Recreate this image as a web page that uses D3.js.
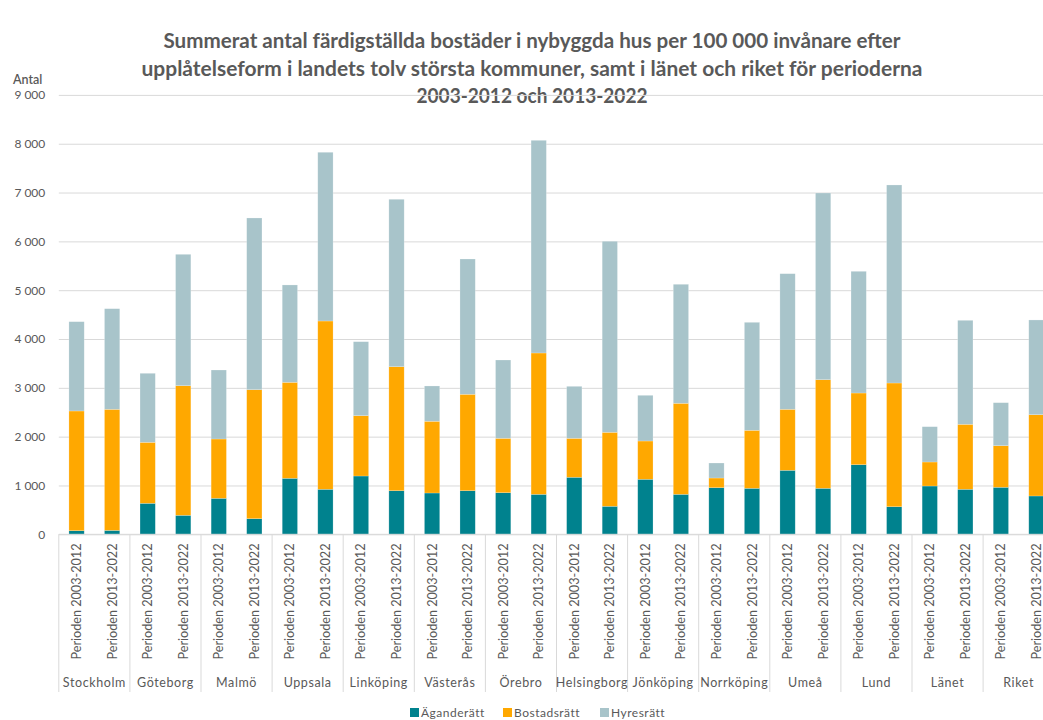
<!DOCTYPE html>
<html>
<head>
<meta charset="utf-8">
<script src="https://cdn.jsdelivr.net/npm/d3@7"></script>
<style>
  body { margin: 0; background: #fff; }
  svg { display: block; font-family: Lato, "Open Sans", sans-serif; }
</style>
</head>
<body>
<div id="chart"></div>
<script>
// Summerat antal färdigställda bostäder per 100 000 invånare, staplade per upplåtelseform
const groups = ["Stockholm", "Göteborg", "Malmö", "Uppsala", "Linköping", "Västerås", "Örebro",
  "Helsingborg", "Jönköping", "Norrköping", "Umeå", "Lund", "Länet", "Riket"];
const periods = ["Perioden 2003-2012", "Perioden 2013-2022"];
const seriesNames = ["Äganderätt", "Bostadsrätt", "Hyresrätt"];

// one value per bar, in order: group, then period
const aganderatt = [74, 80, 635, 389, 737, 320, 1147, 922, 1194, 893, 846, 893, 852, 819,
  1168, 574, 1127, 819, 955, 942, 1311, 942, 1426, 565, 989, 922, 963, 785];
const bostadsratt = [2452, 2480, 1249, 2655, 1215, 2642, 1966, 3447, 1236, 2540, 1469, 1975, 1114, 2895,
  798, 1515, 784, 1864, 198, 1188, 1249, 2225, 1468, 2534, 492, 1331, 852, 1665];
const hyresratt = [1829, 2061, 1414, 2691, 1413, 3517, 1994, 3456, 1515, 3429, 723, 2771, 1604, 4356,
  1065, 3913, 936, 2438, 307, 2212, 2778, 3824, 2493, 4056, 723, 2130, 881, 1940];

const yTicks = [0, 1000, 2000, 3000, 4000, 5000, 6000, 7000, 8000, 9000];
const colors = ["#00828E", "#FFA800", "#A8C4CA"];

const W = 1043, H = 720;
const textColor = "#595959";
const gridColor = "#D9D9D9";

const rows = [];
groups.forEach((g, gi) => {
  periods.forEach((p, pi) => {
    const i = gi * 2 + pi;
    rows.push({
      group: g, period: p,
      "Äganderätt": aganderatt[i],
      "Bostadsrätt": bostadsratt[i],
      "Hyresrätt": hyresratt[i]
    });
  });
});

const svg = d3.select("#chart").append("svg")
  .attr("width", W).attr("height", H);

// scales
const x0 = d3.scaleBand().domain(groups).range([58.8, 1054.2]).padding(0);
const x1 = d3.scaleBand().domain(periods).range([0, x0.bandwidth()])
  .paddingInner(0.57).paddingOuter(0.285);
const y = d3.scaleLinear().domain([0, 9000]).range([534.3, 94.9]);
const color = d3.scaleOrdinal(seriesNames, colors);

const locale = d3.formatLocale({ decimal: ",", thousands: "\u00a0", grouping: [3], currency: ["", ""] });
const fmt = locale.format(",");

// title
const titleLines = [
  "Summerat antal färdigställda bostäder i nybyggda hus per 100 000 invånare efter",
  "upplåtelseform i landets tolv största kommuner, samt i länet och riket för perioderna",
  "2003-2012 och 2013-2022"
];
const titleWidths = [737, 781, 231];
svg.append("g").selectAll("text").data(titleLines).join("text")
  .attr("x", 532)
  .attr("y", (d, i) => 48 + i * 27.5)
  .attr("text-anchor", "middle")
  .attr("font-size", 20)
  .attr("font-weight", "bold")
  .attr("fill", textColor)
  .attr("textLength", (d, i) => titleWidths[i])
  .attr("lengthAdjust", "spacingAndGlyphs")
  .text(d => d);

// y axis label
svg.append("text")
  .attr("x", 13).attr("y", 84)
  .attr("font-size", 12.5)
  .attr("font-weight", 600)
  .attr("fill", textColor)
  .text("Antal");

// gridlines + y tick labels
const yAxis = svg.append("g")
  .attr("transform", "translate(58.8,0)")
  .call(d3.axisLeft(y).tickValues(yTicks).tickSize(-(W - 58.8)).tickFormat(fmt));
yAxis.select(".domain").remove();
yAxis.selectAll(".tick line").attr("stroke", gridColor).attr("stroke-width", 1);
yAxis.selectAll(".tick text")
  .attr("x", -13.5)
  .attr("font-size", 12)
  .attr("font-family", "Lato, sans-serif")
  .attr("fill", textColor);

// stacked bars
const stack = d3.stack().keys(seriesNames);
const layers = stack(rows);

svg.append("g").selectAll("g").data(layers).join("g")
  .attr("fill", d => color(d.key))
  .selectAll("rect").data(d => d).join("rect")
  .attr("x", d => x0(d.data.group) + x1(d.data.period))
  .attr("width", x1.bandwidth())
  .attr("y", d => y(d[1]))
  .attr("height", d => y(d[0]) - y(d[1]))
  .attr("stroke", "#ffffff")
  .attr("stroke-opacity", 0.35)
  .attr("stroke-width", 0.6);

// category axis: baseline, separators, labels
const xAxisG = svg.append("g");
xAxisG.append("line")
  .attr("x1", 58.8).attr("x2", W)
  .attr("y1", y(0)).attr("y2", y(0))
  .attr("stroke", gridColor);

const boundaries = groups.map(g => x0(g));
xAxisG.selectAll(".sep").data(boundaries).join("line")
  .attr("class", "sep")
  .attr("x1", d => d).attr("x2", d => d)
  .attr("y1", y(0)).attr("y2", 692)
  .attr("stroke", gridColor);

xAxisG.selectAll(".period").data(rows).join("text")
  .attr("class", "period")
  .attr("transform", d => {
    const cx = x0(d.group) + x1(d.period) + x1.bandwidth() / 2 + 4.5;
    return `translate(${cx},543.5) rotate(-90)`;
  })
  .attr("text-anchor", "end")
  .attr("font-size", 12.5)
  .attr("fill", textColor)
  .attr("textLength", 116)
  .attr("lengthAdjust", "spacingAndGlyphs")
  .text(d => d.period);

xAxisG.selectAll(".grp").data(groups).join("text")
  .attr("class", "grp")
  .attr("x", d => x0(d) + x0.bandwidth() / 2)
  .attr("y", 687)
  .attr("text-anchor", "middle")
  .attr("font-size", 12.5)
  .attr("letter-spacing", 0.6)
  .attr("fill", textColor)
  .text(d => d);

// legend
const legendX = [410, 503, 600];
const legend = svg.append("g").selectAll("g").data(seriesNames).join("g")
  .attr("transform", (d, i) => `translate(${legendX[i]},708)`);
legend.append("rect")
  .attr("width", 9).attr("height", 9)
  .attr("fill", d => color(d));
legend.append("text")
  .attr("x", 11).attr("y", 9)
  .attr("font-size", 12)
  .attr("letter-spacing", 0.5)
  .attr("fill", textColor)
  .text(d => d);
</script>
</body>
</html>
